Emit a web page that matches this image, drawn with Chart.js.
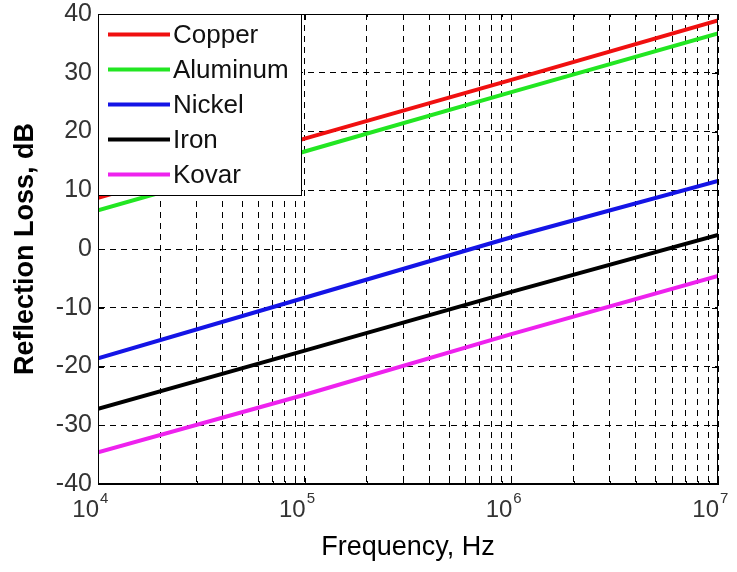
<!DOCTYPE html>
<html>
<head>
<meta charset="utf-8">
<script src="https://cdn.jsdelivr.net/npm/chart.js@4/dist/chart.umd.min.js"></script>
<style>
  html, body { margin: 0; padding: 0; background: #ffffff; }
  #wrap { width: 737px; height: 572px; }
</style>
</head>
<body>
<div id="wrap"><canvas id="c" width="737" height="572"></canvas></div>
<script>
// Frequency points (Hz), one per decade
const frequencies = [1e4, 1e5, 1e6, 1e7];

// Reflection loss (dB) per material
const copper   = [8.7, 18.8, 28.8, 38.9];
const aluminum = [6.6, 16.6, 26.7, 36.7];
const nickel   = [-18.6, -8.3, 2.0, 11.6];
const iron     = [-27.2, -17.3, -7.3, 2.4];
const kovar    = [-34.6, -24.8, -14.5, -4.6];

const materials = ['Copper', 'Aluminum', 'Nickel', 'Iron', 'Kovar'];
const seriesValues = [copper, aluminum, nickel, iron, kovar];
const seriesColors = ['#f01010', '#22e622', '#1414e6', '#000000', '#ee22ee'];

// Axis tick values
const yTicks = [-40, -30, -20, -10, 0, 10, 20, 30, 40];
const xDecades = [4, 5, 6, 7];

const FONT = '"Liberation Sans", Arial, sans-serif';

function xyPoints(vals) {
  return frequencies.map((f, i) => ({ x: f, y: vals[i] }));
}

const datasets = materials.map((name, i) => ({
  label: name,
  data: xyPoints(seriesValues[i]),
  borderColor: seriesColors[i],
  backgroundColor: seriesColors[i],
  borderWidth: 4,
  pointRadius: 0,
  tension: 0,
  fill: false
}));

// Log-scale ticks at 1..9 x 10^k, for grid lines and minor tick marks
function logTicks() {
  const out = [];
  for (let d = xDecades[0]; d < xDecades[xDecades.length - 1]; d++) {
    for (let m = 1; m <= 9; m++) out.push({ value: m * Math.pow(10, d) });
  }
  out.push({ value: Math.pow(10, xDecades[xDecades.length - 1]) });
  return out;
}

// Frame, inward tick marks, power-of-ten labels and the legend box
const decorations = {
  id: 'decorations',
  afterDatasetsDraw(chart) {
    const ctx = chart.ctx;
    const a = chart.chartArea;
    const xs = chart.scales.x, ys = chart.scales.y;
    ctx.save();

    // axes frame
    ctx.strokeStyle = '#000';
    ctx.lineWidth = 1;
    ctx.setLineDash([]);
    ctx.strokeRect(Math.round(a.left) + 0.5, Math.round(a.top) + 0.5,
                   Math.round(a.right - a.left) - 1, Math.round(a.bottom - a.top) - 1);

    // inward tick marks
    ctx.beginPath();
    yTicks.forEach(v => {
      const py = Math.round(ys.getPixelForValue(v)) + 0.5;
      ctx.moveTo(a.left, py); ctx.lineTo(a.left + 6, py);
      ctx.moveTo(a.right, py); ctx.lineTo(a.right - 6, py);
    });
    logTicks().forEach(t => {
      const px = Math.round(xs.getPixelForValue(t.value)) + 0.5;
      const major = Math.abs(Math.log10(t.value) - Math.round(Math.log10(t.value))) < 1e-9;
      const len = major ? 6 : 3;
      ctx.moveTo(px, a.bottom); ctx.lineTo(px, a.bottom - len);
      ctx.moveTo(px, a.top); ctx.lineTo(px, a.top + len);
    });
    ctx.stroke();

    // x tick labels: 10 with superscript exponent
    ctx.fillStyle = '#333';
    ctx.textBaseline = 'middle';
    xDecades.forEach(d => {
      const px = xs.getPixelForValue(Math.pow(10, d));
      ctx.font = '24px ' + FONT;
      ctx.textAlign = 'right';
      ctx.fillText('10', px + 1, a.bottom + 26);
      ctx.font = '15px ' + FONT;
      ctx.textAlign = 'left';
      ctx.fillText(String(d), px + 2, a.bottom + 15);
    });

    // legend box in the upper-left corner of the plot
    const boxL = a.left, boxT = a.top, boxW = 203, boxH = 181;
    ctx.fillStyle = '#ffffff';
    ctx.fillRect(boxL, boxT, boxW, boxH);
    ctx.strokeStyle = '#000';
    ctx.lineWidth = 1;
    ctx.strokeRect(Math.round(boxL) + 0.5, Math.round(boxT) + 0.5, boxW, boxH);
    ctx.font = '26px ' + FONT;
    ctx.textAlign = 'left';
    ctx.textBaseline = 'middle';
    chart.data.datasets.forEach((ds, i) => {
      const cy = boxT + 20.5 + i * 35;
      ctx.strokeStyle = ds.borderColor;
      ctx.lineWidth = 4;
      ctx.beginPath();
      ctx.moveTo(boxL + 10, cy);
      ctx.lineTo(boxL + 72, cy);
      ctx.stroke();
      ctx.fillStyle = '#111';
      ctx.fillText(ds.label, boxL + 75, cy + 1);
    });
    ctx.restore();
  }
};

new Chart(document.getElementById('c'), {
  type: 'line',
  data: { datasets },
  plugins: [decorations],
  options: {
    responsive: false,
    animation: false,
    devicePixelRatio: 1,
    layout: { padding: { top: 14, right: 19, left: 0, bottom: 0 } },
    plugins: { legend: { display: false }, tooltip: { enabled: false } },
    scales: {
      x: {
        type: 'logarithmic',
        position: 'bottom',
        min: 1e4,
        max: 1e7,
        afterBuildTicks(scale) { scale.ticks = logTicks(); },
        afterFit(scale) { scale.height = 88; scale.paddingLeft = 0; scale.paddingRight = 0; },
        ticks: { display: false, autoSkip: false },
        grid: { color: '#000', lineWidth: 1, drawTicks: false, tickLength: 0 },
        border: { display: true, color: '#000', width: 1, dash: [6, 5] },
        title: {
          display: true,
          text: 'Frequency, Hz',
          color: '#000',
          font: { family: FONT, size: 27 },
          padding: { top: 0, bottom: 8 }
        }
      },
      y: {
        type: 'linear',
        min: -40,
        max: 40,
        afterBuildTicks(scale) { scale.ticks = yTicks.map(v => ({ value: v })); },
        afterFit(scale) { scale.width = 98; scale.paddingTop = 0; scale.paddingBottom = 0; },
        ticks: {
          color: '#333',
          padding: 6,
          font: { family: FONT, size: 25, lineHeight: 1 },
          callback: v => String(v)
        },
        grid: { color: '#000', lineWidth: 1, drawTicks: false, tickLength: 0 },
        border: { display: true, color: '#000', width: 1, dash: [6, 5] },
        title: {
          display: true,
          text: 'Reflection Loss, dB',
          color: '#000',
          font: { family: FONT, size: 27, weight: 'bold' },
          padding: { top: 9, bottom: 0 }
        }
      }
    }
  }
});
</script>
</body>
</html>
